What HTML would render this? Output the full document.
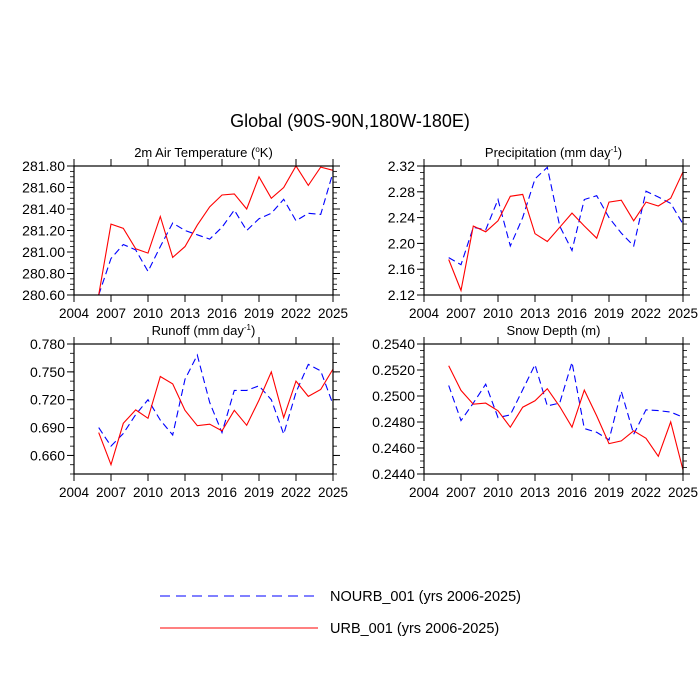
<!DOCTYPE html>
<html><head><meta charset="utf-8"><style>
html,body{margin:0;padding:0;background:#fff;}
svg{display:block;font-family:"Liberation Sans",Arial,sans-serif;}
</style></head><body>
<svg id="chart" width="700" height="700" xmlns="http://www.w3.org/2000/svg">
<text x="350" y="127" text-anchor="middle" font-size="18">Global (90S-90N,180W-180E)</text>
<g>
<line x1="160" y1="596" x2="318" y2="596" stroke="#0000ff" stroke-width="1" stroke-dasharray="10,6"/>
<text x="330" y="601" font-size="14.5">NOURB_001 (yrs 2006-2025)</text>
<line x1="160" y1="628" x2="318" y2="628" stroke="#ff0000" stroke-width="1"/>
<text x="330" y="633" font-size="14.5">URB_001 (yrs 2006-2025)</text>
</g>
</svg>
<script>
const years = [2006,2007,2008,2009,2010,2011,2012,2013,2014,2015,2016,2017,2018,2019,2020,2021,2022,2023,2024,2025];
const xTicks = [2004,2007,2010,2013,2016,2019,2022,2025];
const tempUrb = [280.60,281.26,281.22,281.03,280.99,281.33,280.95,281.05,281.25,281.42,281.53,281.54,281.40,281.70,281.50,281.60,281.80,281.62,281.79,281.76];
const tempNourb = [280.60,280.94,281.07,281.02,280.82,281.05,281.27,281.20,281.16,281.12,281.23,281.39,281.20,281.31,281.36,281.49,281.29,281.36,281.35,281.74];
const precUrb = [2.175,2.127,2.227,2.218,2.235,2.273,2.276,2.215,2.203,2.225,2.247,2.227,2.208,2.264,2.267,2.235,2.264,2.258,2.270,2.311];
const precNourb = [2.178,2.167,2.225,2.221,2.268,2.196,2.240,2.300,2.318,2.227,2.189,2.268,2.274,2.240,2.216,2.196,2.281,2.272,2.262,2.230];
const runUrb = [0.6846,0.650,0.6946,0.709,0.700,0.745,0.737,0.7086,0.692,0.6936,0.6864,0.7086,0.6925,0.7196,0.750,0.7007,0.740,0.7236,0.731,0.753];
const runNourb = [0.690,0.670,0.6836,0.704,0.720,0.698,0.682,0.742,0.768,0.717,0.6846,0.730,0.730,0.735,0.720,0.683,0.728,0.758,0.751,0.715];
const snowUrb = [0.25233,0.25043,0.24937,0.24945,0.24886,0.2476,0.24914,0.24963,0.25056,0.24919,0.2476,0.25045,0.24847,0.24634,0.24655,0.24732,0.24675,0.24536,0.24801,0.24431];
const snowNourb = [0.25081,0.24811,0.24945,0.25091,0.24834,0.24855,0.25048,0.25241,0.24924,0.24945,0.25259,0.2475,0.24721,0.24662,0.25035,0.24706,0.24894,0.24888,0.24876,0.24837];
const tempTicks = [280.6,280.8,281.0,281.2,281.4,281.6,281.8];
const precTicks = [2.12,2.16,2.20,2.24,2.28,2.32];
const runTicks = [0.66,0.69,0.72,0.75,0.78];
const snowTicks = [0.244,0.246,0.248,0.250,0.252,0.254];

const NS='http://www.w3.org/2000/svg';
const svg=document.getElementById('chart');
function mk(tag,attrs,parent){const e=document.createElementNS(NS,tag);for(const k in attrs)e.setAttribute(k,attrs[k]);(parent||svg).appendChild(e);return e;}

function panel(o){
  const g=mk('g',{});
  
  
  const X=v=>o.x0+(v-2004)/(2025-2004)*(o.x1-o.x0);
  const Y=v=>o.y1-(v-o.ymin)/(o.ymax-o.ymin)*(o.y1-o.y0);
  const t=mk('text',{x:(o.x0+o.x1)/2,y:o.y0-9,'text-anchor':'middle','font-size':13},g);
  
  
  t.innerHTML=o.title;
  for(let v=o.ymin;v<=o.ymax+1e-9;v+=o.minor){
    const y=Y(v);
    mk('line',{x1:o.x0-4,y1:y,x2:o.x0,y2:y,stroke:'#000','stroke-width':0.8},g);
    mk('line',{x1:o.x1,y1:y,x2:o.x1+4,y2:y,stroke:'#000','stroke-width':0.8},g);
  }
  o.yt.forEach(v=>{
    const y=Y(v);
    mk('line',{x1:o.x0-7,y1:y,x2:o.x0,y2:y,stroke:'#000','stroke-width':1},g);
    mk('line',{x1:o.x1,y1:y,x2:o.x1+7,y2:y,stroke:'#000','stroke-width':1},g);
    const l=mk('text',{x:o.x0-9,y:y+5,'text-anchor':'end','font-size':14},g);
    
    
    l.textContent=v.toFixed(o.dec);
  });
  xTicks.forEach(v=>{
    const x=X(v);
    mk('line',{x1:x,y1:o.y1,x2:x,y2:o.y1+7,stroke:'#000','stroke-width':1},g);
    mk('line',{x1:x,y1:o.y0-7,x2:x,y2:o.y0,stroke:'#000','stroke-width':1},g);
    const l=mk('text',{x:x,y:o.y1+23,'text-anchor':'middle','font-size':13.5},g);
    
    
    l.textContent=v;
  });
  const pts=a=>a.map((v,i)=>X(years[i]).toFixed(1)+','+Y(v).toFixed(1)).join(' ');
  const b=mk('polyline',{points:pts(o.blue),fill:'none',stroke:'#0000ff','stroke-width':1.1,'stroke-dasharray':'7,4'},g);
  
  
  const r=mk('polyline',{points:pts(o.red),fill:'none',stroke:'#ff0000','stroke-width':1.1},g);
  
  
  mk('rect',{x:o.x0,y:o.y0,width:o.x1-o.x0,height:o.y1-o.y0,fill:'none',stroke:'#000','stroke-width':1.2},g);
}
panel({name:'panel-air-temperature',title:'2m Air Temperature (<tspan font-size="8" dy="-5">o</tspan><tspan dy="5">K)</tspan>',x0:74,x1:333,y0:166,y1:295,ymin:280.6,ymax:281.8,yt:tempTicks,minor:0.05,dec:2,red:tempUrb,blue:tempNourb});
panel({name:'panel-precipitation',title:'Precipitation (mm day<tspan font-size="8" dy="-5">-1</tspan><tspan dy="5">)</tspan>',x0:424,x1:683,y0:166,y1:295,ymin:2.12,ymax:2.32,yt:precTicks,minor:0.01,dec:2,red:precUrb,blue:precNourb});
panel({name:'panel-runoff',title:'Runoff (mm day<tspan font-size="8" dy="-5">-1</tspan><tspan dy="5">)</tspan>',x0:74,x1:333,y0:344,y1:474,ymin:0.64,ymax:0.78,yt:runTicks,minor:0.01,dec:3,red:runUrb,blue:runNourb});
panel({name:'panel-snow-depth',title:'Snow Depth (m)',x0:424,x1:683,y0:344,y1:474,ymin:0.244,ymax:0.254,yt:snowTicks,minor:0.0005,dec:4,red:snowUrb,blue:snowNourb});
</script>
</body></html>
